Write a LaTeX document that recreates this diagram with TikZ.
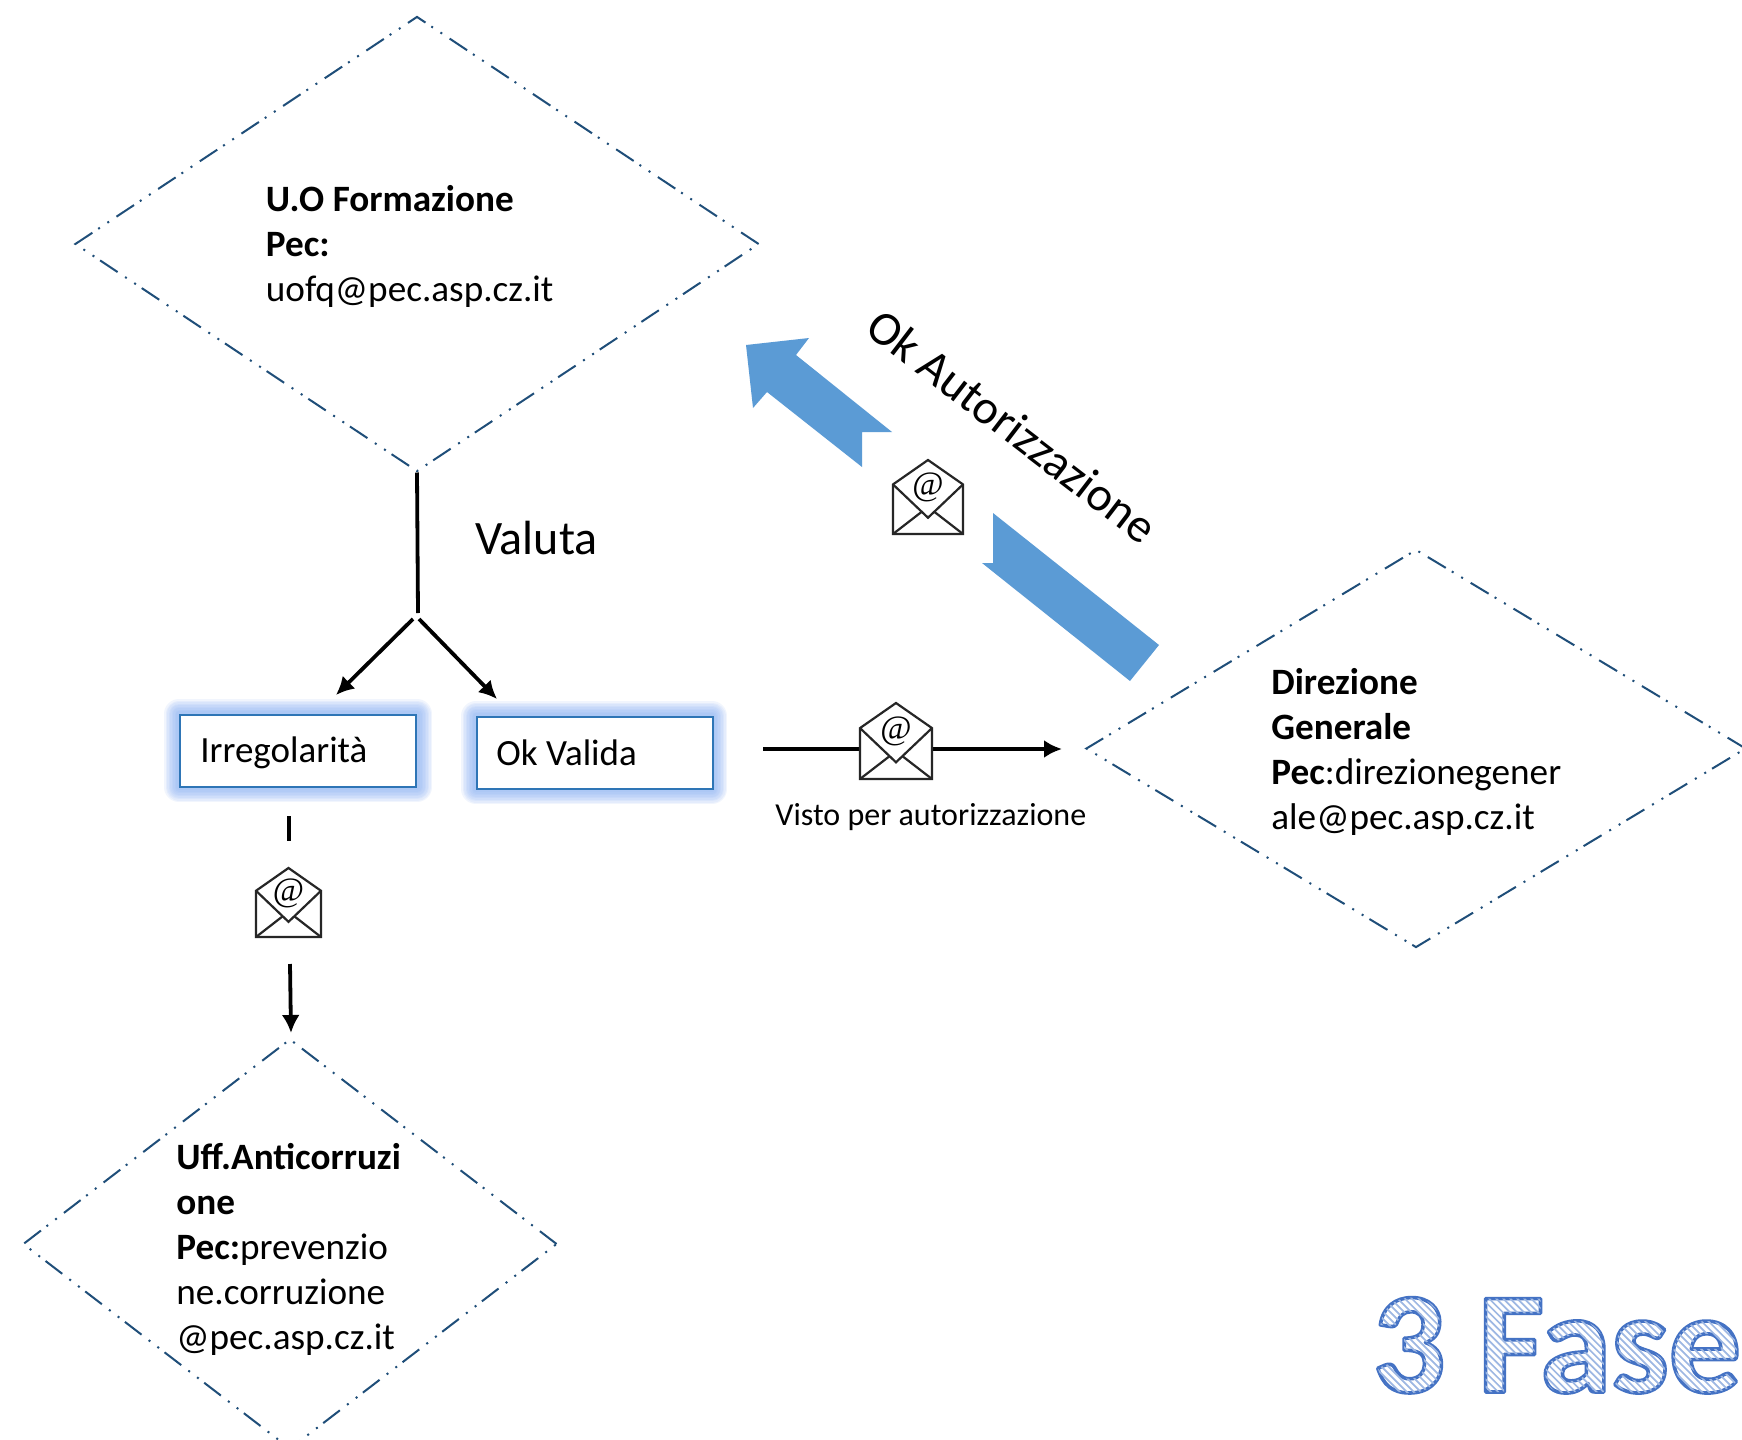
\documentclass[tikz,border=0pt]{standalone}
\usepackage{fontspec}
\setmainfont{Carlito}
\usetikzlibrary{shapes.geometric,arrows.meta}
\definecolor{dashblue}{HTML}{1F4E79}
\definecolor{bigblue}{HTML}{5B9BD5}
\definecolor{boxblue}{HTML}{2E75B6}
\definecolor{glowblue}{HTML}{8DB3F5}
\tikzset{
  px/.style={x=0.5pt,y=-0.5pt},
  lozenge/.style={diamond,draw=dashblue,line width=1pt,inner sep=0pt,
    dash pattern=on 10.5pt off 4.5pt on 1pt off 4.5pt on 1pt off 3.5pt},
  label/.style={inner sep=0pt,anchor=base west,align=left,font=\fontsize{18.6}{22.4}\selectfont},
  conn/.style={line width=1.9pt,black},
  arr/.style={conn,-{Latex[length=9pt,width=9pt]}},
  boxnode/.style={draw=boxblue,line width=1.1pt,fill=white,inner sep=0pt,anchor=north west,
    minimum width=118pt,minimum height=36pt},
  boxtext/.style={inner sep=0pt,anchor=base west,font=\fontsize{18.5}{22}\selectfont},
  envline/.style={line width=1.1pt,draw=black!85,line join=miter},
}
\newcommand{\envelope}[5]{% name, left, top, width, height
  \node[inner sep=0pt,minimum width=#4*0.5pt,minimum height=#5*0.5pt,anchor=north west] (#1) at (#2,#3) {};
  \begin{scope}[shift={(#2,#3)},x=#4*0.5pt,y=-#5*0.5pt]
    \fill[white] (0,1) -- (0,.33) -- (.5,0) -- (1,.33) -- (1,1) -- cycle;
    \draw[envline] (0,1) -- (0,.33) -- (.5,0) -- (1,.33) -- (1,1) -- cycle;
    \draw[envline] (0,.33) -- (.5,.78) -- (1,.33);
    \draw[envline] (0,1) -- (.41,.70) (1,1) -- (.59,.70);
    \node[inner sep=0pt] (#1at) at (.5,.37) {\fontspec{Liberation Serif}\fontsize{17}{17}\selectfont @};
  \end{scope}
}
\newcommand{\glowbox}[4]{% x0,y0,x1,y1
  \foreach \w in {30,27,24,21,18,15,12,9,6}{
    \draw[glowblue,opacity=0.12,line width=\w*0.5pt,line join=round] (#1,#2) rectangle (#3,#4);
  }
}
% strokes the text, clips to it, and hatches the inside (offsets in bp from the end of the text)
\newcommand{\hatchedtext}[1]{%
  \special{pdf:code q 1 j 5 Tr 1.8 w 0.267 0.447 0.769 RG}#1%
  \foreach \i in {0,...,160}{%
    \pgfmathsetmacro{\xa}{-480+3.5*\i}\pgfmathsetmacro{\xb}{\xa+200}%
    \special{pdf:content 0 Tr 0.62 0.72 0.89 RG 0.85 w \xa\space 100 m \xb\space -100 l S}%
  }%
  \special{pdf:code Q}%
}
\begin{document}
\begin{tikzpicture}[px]
\useasboundingbox (0,0) rectangle (1742,1440);
\fill[white] (0,0) rectangle (1742,1440);

% lozenges
\node[lozenge,shape aspect=1.48,minimum width=342pt,minimum height=227.5pt] (uo) at (417,244) {};
\node[lozenge,shape aspect=1.66,minimum width=330pt,minimum height=199pt] (dg) at (1416,748.5) {};
\node[lozenge,shape aspect=1.31,minimum width=267pt,minimum height=205pt] (uff) at (290,1244) {};

% lozenge texts
\node[label] (t1) at (265.5,301) {\textbf{U.O Formazione}\\\textbf{Pec:}\\uofq@pec.asp.cz.it};
\node[label] (t2) at (1271,829) {\textbf{Direzione}\\\textbf{Generale}\\\textbf{Pec}:direzionegener\\ale@pec.asp.cz.it};
\node[label] (t3) at (176,1349) {\textbf{Uff.Anticorruzi}\\\textbf{one}\\\textbf{Pec:}prevenzio\\ne.corruzione\\@pec.asp.cz.it};

% boxes
\glowbox{179}{714}{417}{787}
\glowbox{476}{716}{712}{789}
\node[boxnode] (irr) at (179,714) {};
\node[boxnode] (ok) at (476,716) {};
\node[boxtext] (irrt) at (200,762) {Irregolarità};
\node[boxtext] (okt) at (496,765) {Ok Valida};

% tree connectors
\coordinate (fork) at (418,613);
\coordinate (fl) at (413,619);
\coordinate (fr) at (419,619);
\coordinate (al) at (336,695);
\coordinate (ar) at (497,699);
\draw[conn] (uo.south) -- (fork);
\draw[arr] (fl) -- (al);
\draw[arr] (fr) -- (ar);
\node[inner sep=0pt,anchor=base west,font=\fontsize{24}{26}\selectfont] (valuta) at (475,554) {Valuta};

% irregolarita -> uff
\coordinate (s1) at (289,816);
\coordinate (s2) at (289,841);
\coordinate (s3) at (290,964);
\coordinate (s4) at (291,1033);
\draw[conn] (s1) -- (s2);
\envelope{env1}{256}{868}{65}{69}
\draw[arr] (s3) -- (s4);

% visto
\coordinate (v1) at (763,749);
\coordinate (v3) at (933,749);
\coordinate (v4) at (1062,749);
\draw[conn] (v1) -- (v3);
\draw[arr] (v3) -- (v4);
\envelope{env2}{860}{703}{72}{76}
\node[inner sep=0pt,anchor=base west,font=\fontsize{16}{19}\selectfont] (visto) at (775,825) {Visto per autorizzazione};

% big arrow
\fill[bigblue] (746,345) -- (809,338) -- (796,355) -- (892,432) -- (862,432) -- (862,467) -- (767,392) -- (753,408) -- cycle;
\fill[bigblue] (993,513) -- (993,563) -- (982,563) -- (1130,681) -- (1159,645) -- cycle;
\envelope{env3}{893}{460}{70}{74}
\node[inner sep=0pt,rotate=-37.5,font=\fontsize{24}{26}\selectfont] (okaut) at (1012.5,426) {Ok Autorizzazione};

% 3 Fase
\node[inner sep=0pt,anchor=base west] (fase) at (1372,1392) {\fontsize{72}{72}\selectfont\bfseries\hatchedtext{3 Fase}};
\end{tikzpicture}
\end{document}
